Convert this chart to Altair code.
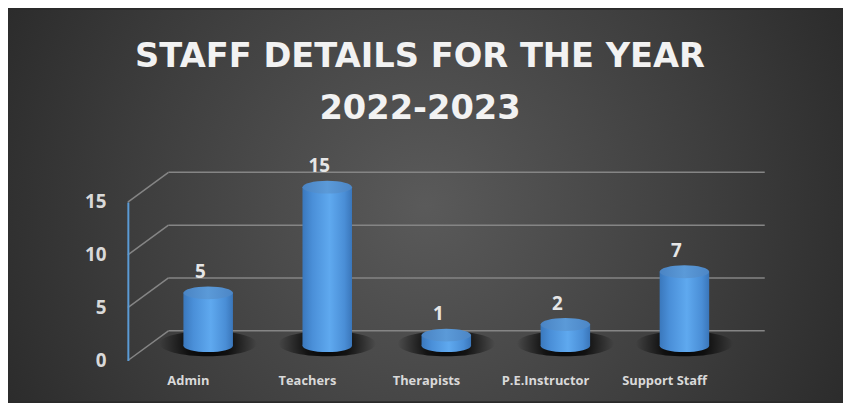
import altair as alt
import pandas as pd

categories = ["Admin", "Teachers", "Therapists", "P.E.Instructor", "Support Staff"]
values = [5, 15, 1, 2, 7]
tick_values = [0, 5, 10, 15]
title_lines = ["STAFF DETAILS FOR THE YEAR", "2022-2023"]

bars = pd.DataFrame({"cat": categories, "value": values})
ticks = pd.DataFrame({"value": tick_values})
one = pd.DataFrame({"t1": [title_lines[0]], "t2": [title_lines[1]]})

W, H = 661, 160
PAD = {"left": 121, "top": 194, "right": 61, "bottom": 41}

yscale = alt.Scale(domain=[0, 15], range=[H, 0], nice=False, zero=True)
yaxis = alt.Axis(values=tick_values, grid=False, ticks=False, domainColor="#5b9bd5",
                 domainWidth=2, labelFont="Open Sans", labelFontWeight="bold",
                 labelFontSize=19, labelColor="#d9d9d9", labelPadding=22, title=None, zindex=1)
xscale = alt.Scale(type="band", domain=categories, range=[21, 622], paddingInner=0, paddingOuter=0)
xaxis = alt.Axis(domain=False, ticks=False, labelFont="Open Sans", labelFontWeight="bold",
                 labelFontSize=13, labelColor="#d9d9d9", labelPadding=14, labelOffset=-20,
                 labelAngle=0, title=None, zindex=1)

def Y(f="value"):
    return alt.Y(f, type="quantitative", scale=yscale, axis=yaxis)

def X():
    return alt.X("cat:N", scale=xscale, axis=xaxis, sort=categories)

def ellipse(ratio):
    k = 0.5523
    r = ratio
    kr = k * r
    return (f"M -1 0 C -1 {-kr:.4f} {-k} {-r} 0 {-r} C {k} {-r} 1 {-kr:.4f} 1 0 "
            f"C 1 {kr:.4f} {k} {r} 0 {r} C {-k} {r} -1 {kr:.4f} -1 0 Z")

bg_grad = {"gradient": "radial", "x1": 0.5, "y1": 0.5, "r1": 0, "x2": 0.5, "y2": 0.5, "r2": 0.62,
           "stops": [{"offset": 0, "color": "#5a5a5a"}, {"offset": 0.55, "color": "#3e3e3e"},
                     {"offset": 1, "color": "#262626"}]}
body_grad = {"gradient": "linear", "x1": 0, "y1": 0, "x2": 1, "y2": 0,
             "stops": [{"offset": 0, "color": "#3a78bd"}, {"offset": 0.2, "color": "#4a8fd8"},
                       {"offset": 0.55, "color": "#5fa9ef"}, {"offset": 0.85, "color": "#4a8ed6"},
                       {"offset": 1, "color": "#3a76ba"}]}
top_grad = {"gradient": "linear", "x1": 0, "y1": 0, "x2": 1, "y2": 0,
            "stops": [{"offset": 0, "color": "#4a84c4"}, {"offset": 0.5, "color": "#5b9ad8"},
                      {"offset": 1, "color": "#4c86c6"}]}
shadow_grad = {"gradient": "radial", "x1": 0.5, "y1": 0.5, "r1": 0, "x2": 0.5, "y2": 0.5, "r2": 0.5,
               "stops": [{"offset": 0, "color": "rgba(0,0,0,0.95)"},
                         {"offset": 0.45, "color": "rgba(0,0,0,0.75)"},
                         {"offset": 1, "color": "rgba(0,0,0,0)"}]}

OFF = -15

bg = alt.Chart(one).mark_rect(fill=bg_grad).encode(
    x=alt.value(-PAD["left"]), x2=alt.value(W + PAD["right"]),
    y=alt.value(-PAD["top"]), y2=alt.value(H + PAD["bottom"]))

grid_h = alt.Chart(ticks).mark_rule(color="#858585", strokeWidth=1.5, yOffset=-30).encode(
    x=alt.value(41), x2=alt.value(643), y=Y())
grid_d = alt.Chart(ticks).mark_rule(color="#858585", strokeWidth=1.5, y2Offset=-30).encode(
    x=alt.value(0), x2=alt.value(41), y=Y(), y2=alt.Y2("value"))

shadow = alt.Chart(bars).mark_point(shape=ellipse(0.26), size=98 ** 2, filled=True, fill=shadow_grad,
                                    opacity=1, strokeWidth=0, yOffset=OFF - 2).encode(
    x=X(), y=alt.Y("z:Q", scale=yscale, axis=yaxis)).transform_calculate(z="0")

bottom = alt.Chart(bars).mark_point(shape=ellipse(0.26), size=2500, filled=True, fill=body_grad,
                                    opacity=1, strokeWidth=0, yOffset=OFF).encode(
    x=X(), y=alt.Y("z:Q", scale=yscale, axis=yaxis)).transform_calculate(z="0")

body = alt.Chart(bars).mark_bar(width=50, fill=body_grad, yOffset=OFF, y2Offset=OFF).encode(
    x=X(), y=Y(), y2=alt.datum(0))

top = alt.Chart(bars).mark_point(shape=ellipse(0.26), size=2500, filled=True, fill=top_grad,
                                 opacity=1, strokeWidth=0, yOffset=OFF).encode(x=X(), y=Y())

labels = alt.Chart(bars).mark_text(font="Open Sans", fontWeight="bold", fontSize=19,
                                   color="#e6e6e6", dx=-8, dy=OFF - 21, baseline="middle").encode(
    x=X(), y=Y(), text="value:Q")

def title_text(field, ypos):
    return alt.Chart(one).mark_text(font="DejaVu Sans", fontWeight="bold", fontSize=34,
                                    baseline="middle", align="center", color="#f2f2f2").encode(
        x=alt.value(295), y=alt.value(ypos), text=f"{field}:N")

titles = [title_text("t1", -146), title_text("t2", -94)]

chart = alt.layer(bg, grid_h, grid_d, shadow, bottom, body, top, labels, *titles).properties(
    width=W, height=H, padding=PAD, autosize=alt.AutoSizeParams(type="none"),
    background="#2a2a2a"
).configure_view(strokeWidth=0)

chart.save("out.html", embed_options={"renderer": "svg", "actions": False})
